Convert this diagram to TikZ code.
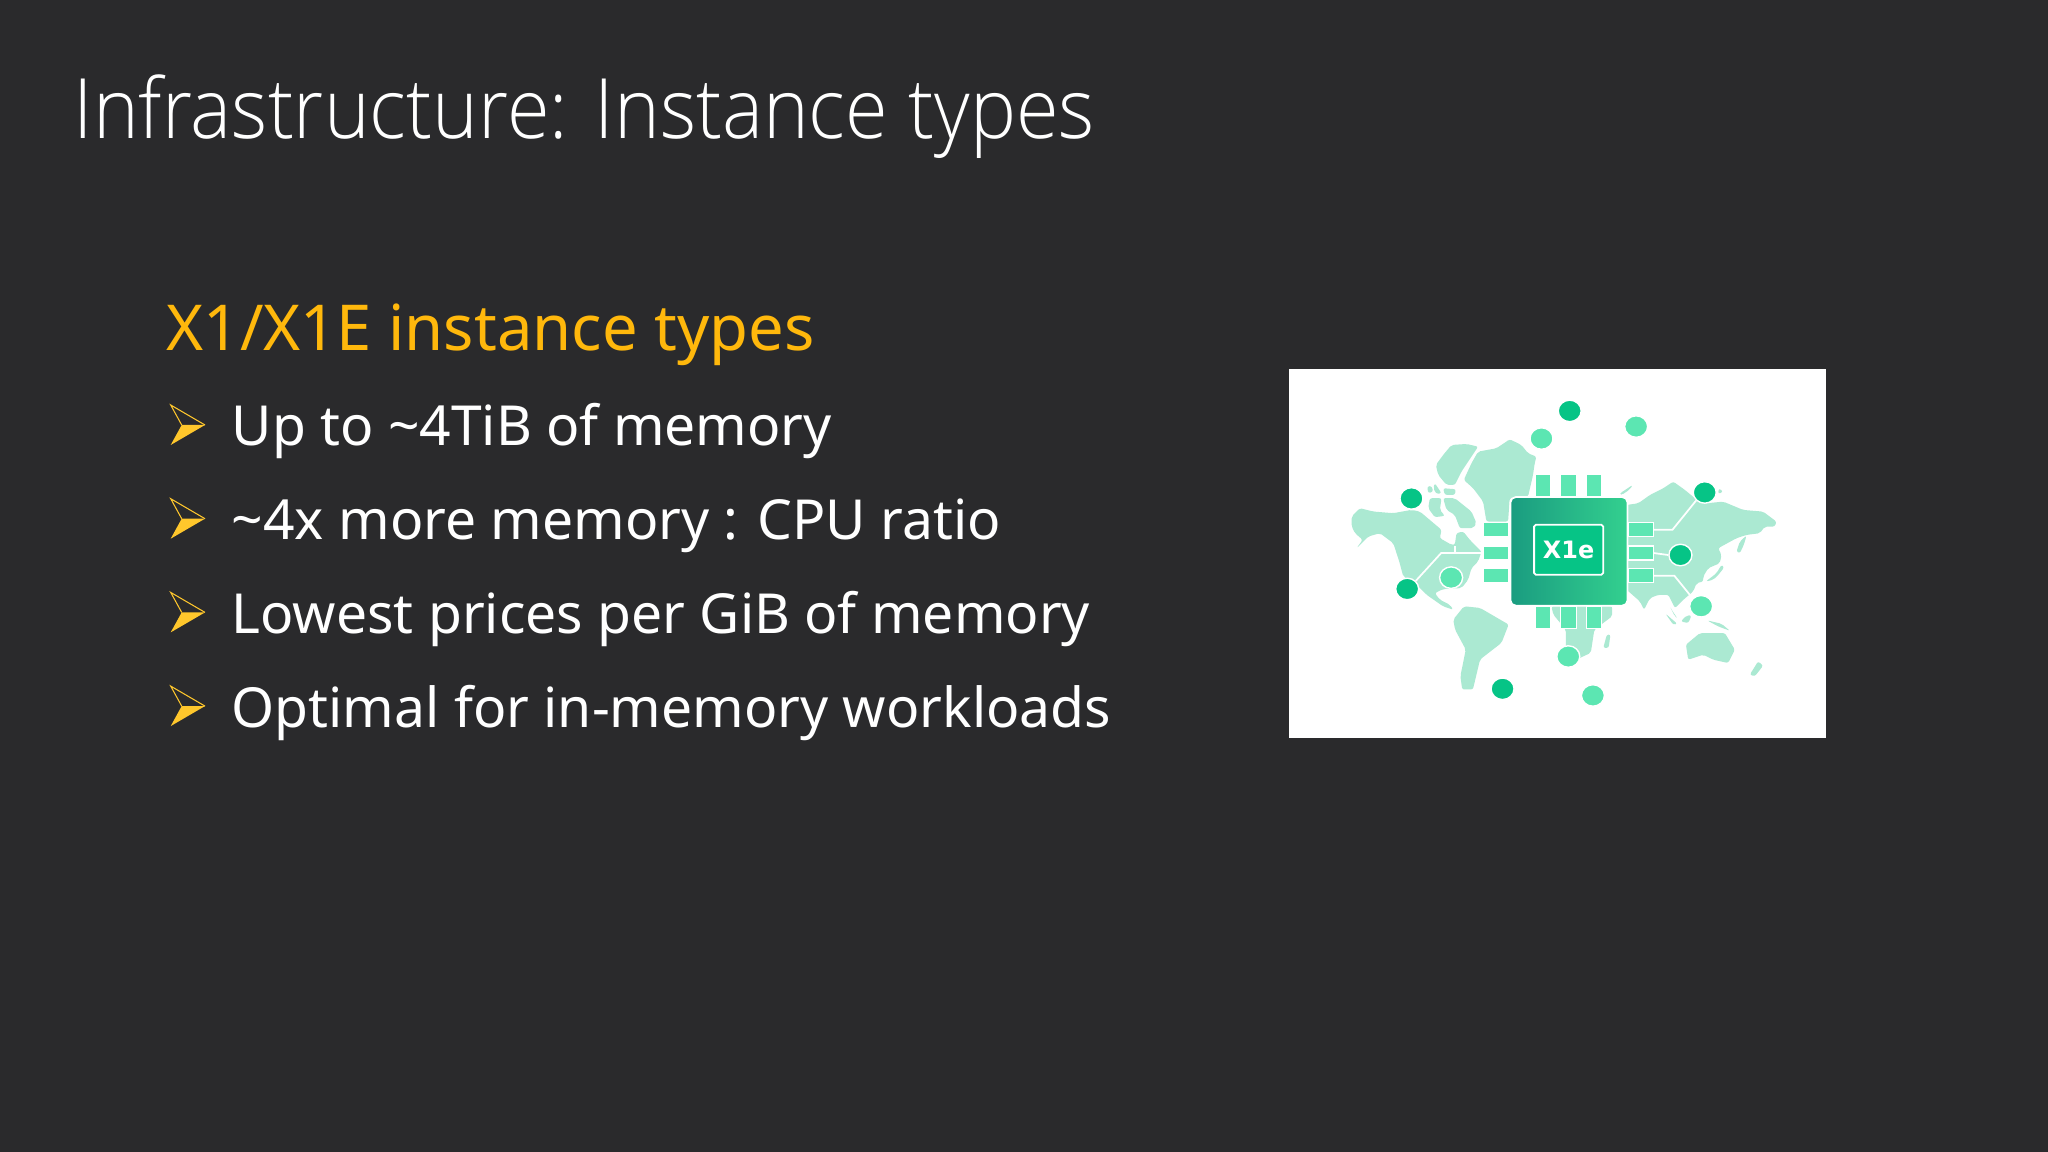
\documentclass[tikz,border=0pt]{standalone}
\usepackage{fontspec}
\usetikzlibrary{shapes.geometric}
\setmainfont{Noto Sans}
\newfontfamily\titlefont[FakeStretch=0.93]{Open Sans Light}
\newfontfamily\tagfont{DejaVu Sans}
\definecolor{slidebg}{HTML}{2A2A2C}
\definecolor{headgold}{HTML}{FFB80C}
\definecolor{arrowgold}{HTML}{FFC72C}
\definecolor{mapgreen}{HTML}{ABE9D2}
\definecolor{pingreen}{HTML}{5CE6B2}
\definecolor{dotdark}{HTML}{06C486}
\definecolor{chipleft}{HTML}{1A9C80}
\definecolor{chipright}{HTML}{33D08F}
\tikzset{
  txt/.style={anchor=base west,inner sep=0pt,text=white},
  pinv/.style={fill=pingreen,draw=white,line width=0.3pt,minimum width=0.155cm,minimum height=0.22cm,inner sep=0pt},
  pinh/.style={fill=pingreen,draw=white,line width=0.3pt,minimum width=0.245cm,minimum height=0.14cm,inner sep=0pt},
  dotd/.style={ellipse,fill=dotdark,draw=white,line width=0.4pt,minimum width=0.23cm,minimum height=0.215cm,inner sep=0pt},
  dotl/.style={ellipse,fill=pingreen,draw=white,line width=0.4pt,minimum width=0.23cm,minimum height=0.215cm,inner sep=0pt},
  trace/.style={draw=white,line width=0.5pt},
  land/.style={fill=mapgreen,rounded corners=0.6pt},
}
\begin{document}
\begin{tikzpicture}[x=0.01cm,y=-0.01cm]
\useasboundingbox (0,0) rectangle (2048,1152);
\fill[slidebg] (0,0) rectangle (2048,1152);
\pgfmathsetmacro{\krowstep}{93.7}
\node[txt] (title) at (73,139) {\titlefont\fontsize{23.7pt}{30pt}\selectfont Infrastructure: Instance types};
\node[txt,text=headgold] (head) at (166,351) {\fontsize{18pt}{20pt}\selectfont X1/X1E instance types};
\foreach \krow/\ktext in {0/{Up to \textasciitilde4TiB of memory},1/{\textasciitilde4x more memory : CPU ratio},2/{Lowest prices per GiB of memory},3/{Optimal for in-memory workloads}}{
  \node[txt] (row\krow) at (231,446+\krow*\krowstep) {\fontsize{15.7pt}{19pt}\selectfont \ktext};
  \fill[arrowgold] (205,425+\krow*\krowstep)--(181.7,425+\krow*\krowstep)--(170.7,445+\krow*\krowstep)--cycle;
  \draw[arrowgold,line width=0.3pt,line join=miter] (205,425+\krow*\krowstep)--(170.7,405+\krow*\krowstep)--(181.7,425+\krow*\krowstep);
}
\fill[white] (1289,369) rectangle (1826,738);
% west part of the map
\begin{scope}[shift={(1340,430)},x=0.003333cm,y=-0.003333cm]
\fill[land] (35,260)--(60,235)--(100,245)--(160,250)--(215,240)--(240,245)--(305,300)--(300,325)--(335,345)--(345,345)--(350,310)--(370,305)--(390,330)--(425,365)--(415,395)--(395,415)--(385,450)--(365,475)--(310,478)--(285,490)--(300,510)--(330,525)--(340,540)--(310,530)--(260,495)--(225,460)--(190,440)--(178,395)--(160,340)--(120,310)--(85,320)--(50,355)--(68,330)--(45,310)--(35,290)--cycle;
\fill[land] (288,105)--(310,75)--(335,45)--(380,42)--(415,50)--(385,95)--(365,125)--(345,165)--(320,165)--(295,135)--cycle;
\fill[land] (372,150)--(395,100)--(415,65)--(470,55)--(510,28)--(545,45)--(565,70)--(590,80)--(585,100)--(580,135)--(565,200)--(510,205)--(505,275)--(440,275)--(430,215)--(400,175)--cycle;
\fill[land] (310,205)--(345,205)--(395,245)--(410,280)--(400,295)--(360,295)--(345,255)--(320,240)--cycle;
\fill[land] (270,205)--(305,205)--(300,240)--(315,258)--(285,262)--(265,235)--cycle;
\fill[land] (262,170)--(275,168)--(280,185)--(265,190)--cycle;
\fill[land] (285,160)--(305,190)--(290,192)--(280,175)--cycle;
\fill[land] (310,175)--(348,178)--(345,195)--(315,195)--cycle;
\end{scope}
% east part of the map
\begin{scope}[shift={(1620,470)},x=0.003333cm,y=-0.003333cm]
\fill[land] (20,105)--(55,100)--(90,75)--(130,55)--(160,35)--(195,60)--(225,85)--(260,100)--(310,95)--(370,120)--(430,125)--(470,155)--(465,170)--(435,170)--(420,190)--(380,195)--(350,205)--(295,235)--(305,255)--(300,280)--(265,295)--(250,320)--(250,335)--(230,340)--(220,365)--(190,390)--(165,415)--(145,375)--(115,375)--(90,385)--(72,420)--(60,395)--(20,360)--cycle;
\fill[land] (350,245)--(360,215)--(380,197)--(372,225)--(360,250)--cycle;
\fill[land] (258,335)--(290,310)--(305,285)--(313,292)--(300,310)--(280,330)--cycle;
\fill[land] (0,70)--(38,45)--(30,58)--(5,75)--cycle;
\fill[land] (297,55)--(310,65)--(295,72)--cycle;
\fill[land] (137,432)--(172,462)--(160,465)--cycle;
\fill[land] (150,410)--(165,440)--(172,445)--(155,420)--cycle;
\fill[land] (183,455)--(200,437)--(215,437)--(205,460)--cycle;
\fill[land] (262,452)--(305,462)--(330,483)--(295,470)--cycle;
\fill[land] (198,525)--(240,490)--(280,490)--(315,490)--(345,540)--(325,580)--(280,570)--(250,555)--(205,570)--cycle;
\fill[land] (390,615)--(415,575)--(430,588)--(405,620)--cycle;
\end{scope}
\begin{scope}[shift={(1280,360)},x=0.003571cm,y=-0.003333cm]
% south america and africa
\fill[land] (485,780)--(515,740)--(560,745)--(640,795)--(620,850)--(560,900)--(540,990)--(510,990)--(505,950)--(520,870)--(490,810)--cycle;
\fill[land] (760,740)--(930,740)--(930,770)--(880,810)--(870,880)--(830,900)--(800,870)--(800,810)--(765,765)--cycle;
\fill[land] (905,865)--(915,825)--(925,825)--(920,865)--cycle;
% pads, chip and dots
\foreach \kn/\kx in {a/736,b/808,c/879}{
  \node[pinv] (pint\kn) at (\kx,377) {};
  \node[pinv] (pinb\kn) at (\kx,775) {};
}
\foreach \kn/\ky in {a/510,b/580,c/648}{
  \node[pinh] (pinl\kn) at (604,\ky) {};
  \node[pinh] (pinr\kn) at (1010,\ky) {};
}
\foreach \kn/\kx/\ky in {a/811/153,b/368/416,c/1189/398,d/356/688,e/1121/586,f/623/988}{\node[dotd] (dotd\kn) at (\kx,\ky) {};}
\foreach \kn/\kx/\ky in {a/732/236,b/997/200,c/479/654,d/1179/740,e/807/891,f/876/1008}{\node[dotl] (dotl\kn) at (\kx,\ky) {};}
\draw[trace] (pinra.east)--++(53,0)--(dotdc.south west);
\draw[trace] (pinrb.east)--(dotde.west);
\draw[trace] (pinrc.east)--++(58,0)--(dotld.north west);
\draw[trace] (pinlb.west)--++(-117,0)--(dotdd.north east);
\draw[trace] (pinlb.west)++(-79,0)--++(0,-22);
\draw[trace] (pinla.west)--++(-60,0);
\draw[trace] (dotdb.south east)--++(64,63);
\draw[trace] (pinbb.south west)--(dotle.north west);
\node[draw=white,line width=0.5pt,rounded corners=1.5pt,left color=chipleft,right color=chipright,minimum width=1.17cm,minimum height=1.085cm,inner sep=0pt] (chip) at (809,575) {};
\node[draw=white,line width=0.5pt,rounded corners=0.5pt,fill=dotdark,minimum width=0.69cm,minimum height=0.5cm,inner sep=0pt,text=white] (tag) at (808,570) {\tagfont\fontsize{6.8pt}{8pt}\selectfont\bfseries X1e};
\end{scope}
\end{tikzpicture}
\end{document}
